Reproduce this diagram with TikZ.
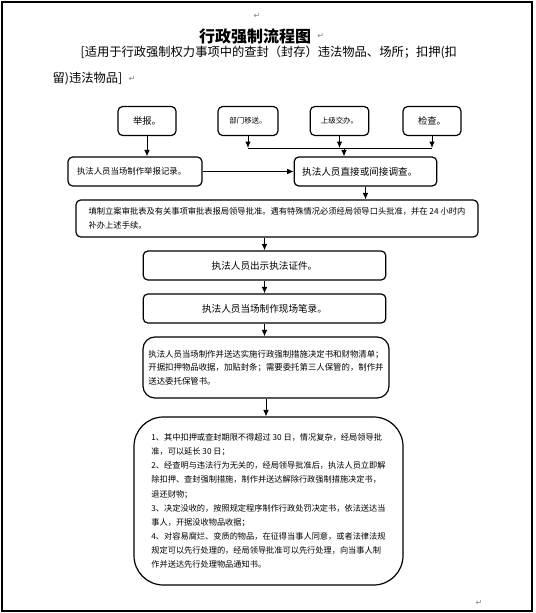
\documentclass[tikz,border=0pt]{standalone}
\usepackage{fontspec}
\setmainfont{Noto Sans CJK SC}
\newfontfamily\markfont{DejaVu Sans}
\usetikzlibrary{arrows.meta,positioning}
\tikzset{
box/.style={draw,line width=.9pt,rounded corners=3.5pt,minimum height=21.75pt,inner sep=0pt,font=\fontsize{6.3}{10}\selectfont},
tallbox/.style={box,align=left},
arrow/.style={-{Latex[length=1.7mm,width=1.5mm]},line width=.7pt},
link/.style={line width=.7pt},
pmark/.style={font=\markfont\fontsize{6}{6}\selectfont,text=gray,inner sep=0pt}
}

\begin{document}
\begin{tikzpicture}[x=.75pt,y=-.75pt]
\useasboundingbox (0,0) rectangle (535,613);
\draw[line width=1.1pt] (2,2) rectangle (532,611);

% title
\node[font=\bfseries\fontsize{12}{14}\selectfont] (title) at (255,36) {行政强制流程图};
\node[font=\fontsize{9.2}{12}\selectfont,anchor=west] (sub1) at (76,52) {[适用于行政强制权力事项中的查封（封存）违法物品、场所；扣押(扣};
\node[font=\fontsize{9.2}{12}\selectfont,anchor=west] (sub2) at (48,79) {留)违法物品]};
\node[pmark] at (257,16) {↵};
\node[pmark,right=1pt of title] {↵};
\node[pmark,right=1pt of sub2] {↵};
\node[pmark] at (479,603) {↵};

% sources
\node[box,minimum width=43.5pt,font=\fontsize{7}{9}\selectfont] (report) at (147,121) {举报。};
\node[box,minimum width=45pt,font=\fontsize{5.6}{8}\selectfont] (transfer) at (248,121) {部门移送。};
\node[box,minimum width=44pt,font=\fontsize{5.6}{8}\selectfont] (assign) at (339.5,121) {上级交办。};
\node[box,minimum width=43.5pt,font=\fontsize{7}{9}\selectfont] (inspect) at (432,121) {检查。};
\node[box,text width=87pt,inner xsep=6.75pt,align=left] (record) at (135,171.5) {执法人员当场制作举报记录。};
\node[box,text width=95pt,inner xsep=6pt,align=left,font=\fontsize{7.2}{9}\selectfont] (investigate) at (365.5,171.5) {执法人员直接或间接调查。};

% main chain
\node[tallbox,minimum width=301.5pt,minimum height=27.75pt,font=\fontsize{6.2}{11}\selectfont] (approve) at (277,218.5) {填制立案审批表及有关事项审批表报局领导批准。遇有特殊情况必须经局领导口头批准，并在 24 小时内\\补办上述手续。};
\node[box,minimum width=182pt,font=\fontsize{7.2}{9}\selectfont] (showid) at (264.5,265.5) {执法人员出示执法证件。};
\node[box,minimum width=182pt,font=\fontsize{7.2}{9}\selectfont] (onsite) at (264.5,308.5) {执法人员当场制作现场笔录。};
\node[tallbox,rounded corners=9pt,minimum width=184.5pt,minimum height=45.75pt,font=\fontsize{6.3}{10}\selectfont] (decision) at (266,367.5) {执法人员当场制作并送达实施行政强制措施决定书和财物清单；\\开据扣押物品收据，加贴封条；需要委托第三人保管的，制作并\\送达委托保管书。};
\node[tallbox,rounded corners=22pt,minimum width=201.75pt,minimum height=126pt,font=\fontsize{6.15}{10.6}\selectfont] (measures) at (268.5,501) {1、其中扣押或查封期限不得超过 30 日，情况复杂，经局领导批\\准，可以延长 30 日；\\2、经查明与违法行为无关的，经局领导批准后，执法人员立即解\\除扣押、查封强制措施，制作并送达解除行政强制措施决定书，\\退还财物；\\3、决定没收的，按照规定程序制作行政处罚决定书，依法送达当\\事人，开据没收物品收据；\\4、对容易腐烂、变质的物品，在征得当事人同意，或者法律法规\\规定可以先行处理的，经局领导批准可以先行处理，向当事人制\\作并送达先行处理物品通知书。};

% connectors
\coordinate (merge) at (344,148);
\draw[arrow] (report.south) -- (report.south |- record.north);
\draw[arrow] (transfer.south) -- (transfer.south |- merge);
\draw[arrow] (assign.south) -- (assign.south |- merge);
\draw[arrow] (inspect.south) -- (inspect.south |- merge);
\draw[link] (transfer.south |- merge) -- (inspect.south |- merge);
\draw[arrow] (merge) -- (merge |- investigate.north);
\draw[arrow] (record) -- (investigate);
\draw[arrow] (investigate.south) -- (investigate.south |- approve.north);
\draw[arrow] (approve.south -| showid) -- (showid);
\draw[arrow] (showid) -- (onsite);
\draw[arrow] (onsite.south) -- (onsite.south |- decision.north);
\draw[arrow] (decision.south) -- (decision.south |- measures.north);
\end{tikzpicture}
\end{document}
